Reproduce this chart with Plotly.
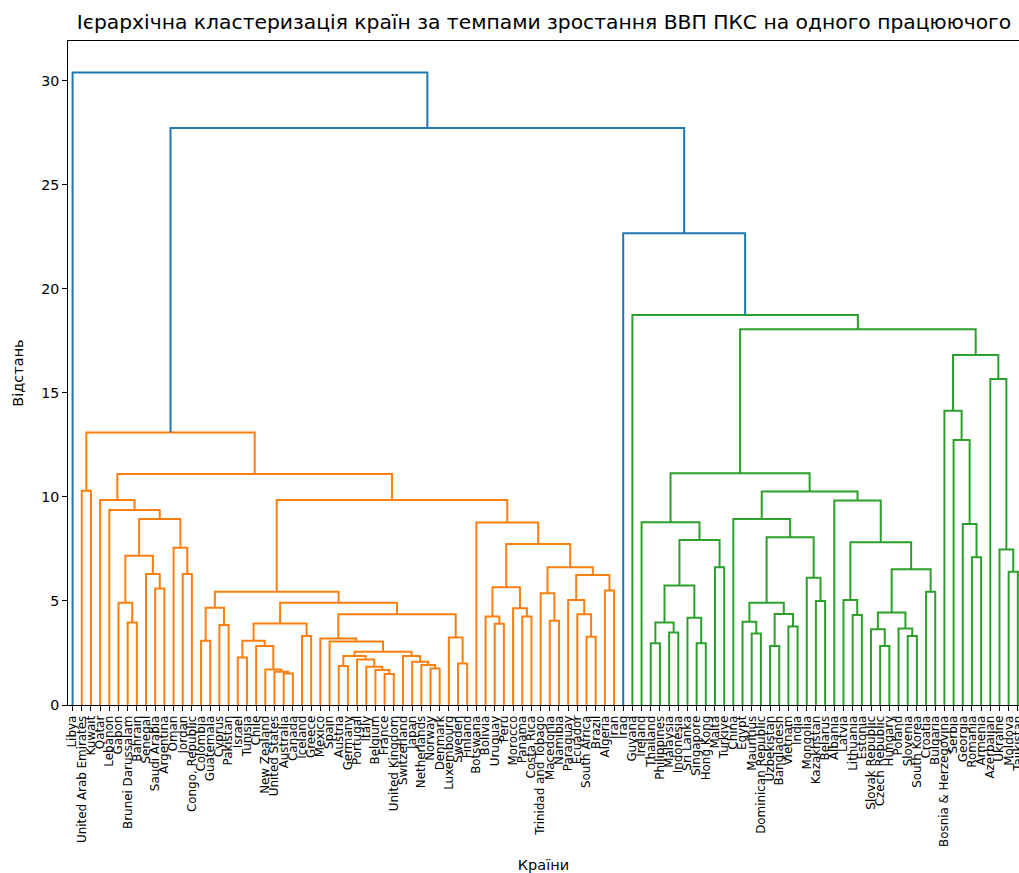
import plotly.graph_objects as go

# Leaf order (countries) as they appear along the x axis
labels = [
    "Libya", "United Arab Emirates", "Kuwait", "Qatar", "Lebanon", "Gabon",
    "Brunei Darussalam", "Bahrain", "Senegal", "Saudi Arabia", "Argentina",
    "Oman", "Jordan", "Congo, Republic", "Colombia", "Guatemala", "Cyprus",
    "Pakistan", "Israel", "Tunisia", "Chile", "New Zealand", "United States",
    "Australia", "Canada", "Iceland", "Greece", "Mexico", "Spain", "Austria",
    "Germany", "Portugal", "Italy", "Belgium", "France", "United Kingdom",
    "Switzerland", "Japan", "Netherlands", "Norway", "Denmark", "Luxembourg",
    "Sweden", "Finland", "Botswana", "Bolivia", "Uruguay", "Peru", "Morocco",
    "Panama", "Costa Rica", "Trinidad and Tobago", "Macedonia", "Namibia",
    "Paraguay", "Ecuador", "South Africa", "Brazil", "Algeria", "Iran", "Iraq",
    "Guyana", "Ireland", "Thailand", "Philippines", "Malaysia", "Indonesia",
    "Sri Lanka", "Singapore", "Hong Kong", "Malta", "Turkiye", "China", "Egypt",
    "Mauritius", "Dominican Republic", "Uzbekistan", "Bangladesh", "Vietnam",
    "India", "Mongolia", "Kazakhstan", "Belarus", "Albania", "Latvia",
    "Lithuania", "Estonia", "Slovak Republic", "Czech Republic", "Hungary",
    "Poland", "Slovenia", "South Korea", "Croatia", "Bulgaria",
    "Bosnia & Herzegovina", "Serbia", "Georgia", "Romania", "Armenia",
    "Azerbaijan", "Ukraine", "Moldova", "Tajikistan",
]

# Merges: (node id, left child, right child, distance)
links = [
    ("n1", "Brunei Darussalam", "Bahrain", 3.97),
    ("n2", "Gabon", "n1", 4.92),
    ("n3", "Saudi Arabia", "Argentina", 5.60),
    ("n4", "Senegal", "n3", 6.30),
    ("n5", "n2", "n4", 7.18),
    ("n6", "Jordan", "Congo, Republic", 6.30),
    ("n7", "Oman", "n6", 7.56),
    ("n8", "n5", "n7", 8.94),
    ("n9", "Lebanon", "n8", 9.375),
    ("n10", "Qatar", "n9", 9.86),
    ("n11", "United Arab Emirates", "Kuwait", 10.30),
    ("c1", "Colombia", "Guatemala", 3.09),
    ("c2", "Cyprus", "Pakistan", 3.85),
    ("c3", "c1", "c2", 4.68),
    ("c4", "Israel", "Tunisia", 2.28),
    ("c5", "Australia", "Canada", 1.52),
    ("c6", "United States", "c5", 1.60),
    ("c7", "New Zealand", "c6", 1.71),
    ("c8", "Chile", "c7", 2.84),
    ("c9", "c4", "c8", 3.09),
    ("c10", "Iceland", "Greece", 3.32),
    ("c11", "c9", "c10", 3.92),
    ("e1", "France", "United Kingdom", 1.49),
    ("e2", "Belgium", "e1", 1.68),
    ("e3", "Italy", "e2", 1.84),
    ("e4", "Portugal", "e3", 2.19),
    ("e5", "Austria", "Germany", 1.87),
    ("e6", "e5", "e4", 2.35),
    ("e7", "Norway", "Denmark", 1.76),
    ("e8", "Netherlands", "e7", 1.92),
    ("e9", "Japan", "e8", 2.08),
    ("e10", "Switzerland", "e9", 2.35),
    ("e11", "e6", "e10", 2.56),
    ("e12", "Spain", "e11", 3.05),
    ("e13", "Mexico", "e12", 3.20),
    ("e14", "Sweden", "Finland", 2.00),
    ("e15", "Luxembourg", "e14", 3.25),
    ("e16", "e13", "e15", 4.36),
    ("e17", "c11", "e16", 4.92),
    ("e18", "c3", "e17", 5.45),
    ("b1", "Uruguay", "Peru", 3.90),
    ("b2", "Bolivia", "b1", 4.25),
    ("b3", "Panama", "Costa Rica", 4.25),
    ("b4", "Morocco", "b3", 4.65),
    ("b5", "b2", "b4", 5.66),
    ("b6", "Macedonia", "Namibia", 4.05),
    ("b7", "Trinidad and Tobago", "b6", 5.37),
    ("b8", "South Africa", "Brazil", 3.28),
    ("b9", "Ecuador", "b8", 4.36),
    ("b10", "Paraguay", "b9", 5.05),
    ("b11", "Algeria", "Iran", 5.50),
    ("b12", "b10", "b11", 6.25),
    ("b13", "b7", "b12", 6.62),
    ("b14", "b5", "b13", 7.74),
    ("b15", "Botswana", "b14", 8.77),
    ("o1", "e18", "b15", 9.86),
    ("o2", "n10", "o1", 11.10),
    ("O", "n11", "o2", 13.10),
    ("g1", "Thailand", "Philippines", 2.97),
    ("g2", "Malaysia", "Indonesia", 3.48),
    ("g3", "g1", "g2", 3.96),
    ("g4", "Singapore", "Hong Kong", 2.97),
    ("g5", "Sri Lanka", "g4", 4.20),
    ("g6", "g3", "g5", 5.74),
    ("g7", "Malta", "Turkiye", 6.62),
    ("g8", "g6", "g7", 7.93),
    ("g9", "Ireland", "g8", 8.78),
    ("h1", "Mauritius", "Dominican Republic", 3.44),
    ("h2", "Egypt", "h1", 4.00),
    ("h3", "Uzbekistan", "Bangladesh", 2.84),
    ("h4", "Vietnam", "India", 3.77),
    ("h5", "h3", "h4", 4.38),
    ("h6", "h2", "h5", 4.92),
    ("h7", "Kazakhstan", "Belarus", 5.00),
    ("h8", "Mongolia", "h7", 6.12),
    ("h9", "h6", "h8", 8.06),
    ("h10", "China", "h9", 8.94),
    ("k1", "Lithuania", "Estonia", 4.33),
    ("k2", "Latvia", "k1", 5.05),
    ("k3", "Czech Republic", "Hungary", 2.84),
    ("k4", "Slovak Republic", "k3", 3.64),
    ("k5", "Slovenia", "South Korea", 3.32),
    ("k6", "Poland", "k5", 3.68),
    ("k7", "k4", "k6", 4.45),
    ("k8", "Croatia", "Bulgaria", 5.45),
    ("k9", "k7", "k8", 6.52),
    ("k10", "k2", "k9", 7.82),
    ("k11", "Albania", "k10", 9.83),
    ("k12", "h10", "k11", 10.26),
    ("k13", "g9", "k12", 11.14),
    ("r1", "Romania", "Armenia", 7.10),
    ("r2", "Georgia", "r1", 8.70),
    ("r3", "Serbia", "r2", 12.74),
    ("r4", "Bosnia & Herzegovina", "r3", 14.15),
    ("r5", "Moldova", "Tajikistan", 6.41),
    ("r6", "Ukraine", "r5", 7.48),
    ("r7", "Azerbaijan", "r6", 15.67),
    ("r8", "r4", "r7", 16.83),
    ("G1", "k13", "r8", 18.06),
    ("G", "Guyana", "G1", 18.75),
    ("T1", "Iraq", "G", 22.68),
    ("T2", "O", "T1", 27.74),
    ("ROOT", "Libya", "T2", 30.40),
]

title_text = "Ієрархічна кластеризація країн за темпами зростання ВВП ПКС на одного працюючого"
y_ticks = [0, 5, 10, 15, 20, 25, 30]

# ---- compute dendrogram geometry ----
pos = {lab: 5 + 10 * i for i, lab in enumerate(labels)}
hgt = {lab: 0.0 for lab in labels}
children = {}
for nid, a, b, h in links:
    pos[nid] = (pos[a] + pos[b]) / 2
    hgt[nid] = h
    children[nid] = (a, b)

max_h = max(l[3] for l in links)
threshold = 0.7 * max_h
cluster_palette = ["#ff7f0e", "#2ca02c", "#d62728", "#9467bd"]
above_color = "#1f77b4"

node_color = {}
roots = []


def find_roots(n):
    if n in children:
        if hgt[n] < threshold:
            roots.append(n)
        else:
            for c in children[n]:
                find_roots(c)


find_roots("ROOT")
roots.sort(key=lambda n: pos[n])


def paint(n, col):
    if n in children:
        node_color[n] = col
        for c in children[n]:
            paint(c, col)


for i, r in enumerate(roots):
    paint(r, cluster_palette[i % len(cluster_palette)])

segs = {}
for nid, a, b, h in links:
    col = node_color.get(nid, above_color)
    xs, ys = segs.setdefault(col, ([], []))
    xs += [pos[a], pos[a], pos[b], pos[b], None]
    ys += [hgt[a], h, h, hgt[b], None]

fig = go.Figure()
for col, (xs, ys) in segs.items():
    fig.add_trace(go.Scatter(x=xs, y=ys, mode="lines",
                             line=dict(color=col, width=2),
                             hoverinfo="skip", showlegend=False))

W, H = 1019, 873
left, top, bottom = 67.7, 41, 705
px_per_unit = 0.918
x_max = (W - left) / px_per_unit

fig.update_layout(
    width=W, height=H,
    margin=dict(l=left, r=0, t=top, b=H - bottom, pad=0),
    plot_bgcolor="white", paper_bgcolor="white",
    font=dict(family="DejaVu Sans", color="black"),
    title=dict(text=title_text, x=544 / W, xanchor="center", xref="container",
               y=1 - 22 / H, yanchor="middle", yref="container",
               font=dict(size=20.3, family="DejaVu Sans", color="black")),
    showlegend=False,
)
fig.update_xaxes(
    range=[0, x_max], tickmode="array",
    tickvals=[pos[l] for l in labels], ticktext=labels, tickangle=-90,
    tickfont=dict(size=11.9, family="DejaVu Sans"),
    ticklabeloverflow="allow",
    ticks="outside", ticklen=4.9, tickwidth=1.1, tickcolor="black",
    showline=True, linecolor="black", linewidth=1.1, mirror=True,
    showgrid=False, zeroline=False,
    title=dict(text="Країни", font=dict(size=14.5), standoff=16),
    automargin=False,
)
fig.update_yaxes(
    range=[0, 1.05 * max_h], tickmode="array", tickvals=y_ticks,
    ticktext=[str(v) for v in y_ticks],
    tickfont=dict(size=14.2, family="DejaVu Sans"),
    ticks="outside", ticklen=4.9, tickwidth=1.1, tickcolor="black",
    showline=True, linecolor="black", linewidth=1.1, mirror=False,
    showgrid=False, zeroline=False,
    title=dict(text="Відстань", font=dict(size=14.5), standoff=14),
    automargin=False,
)

fig.write_html(
    "out.html",
    config={"displayModeBar": False},
    post_script="document.body.style.margin='0';document.body.style.overflow='hidden';",
)
